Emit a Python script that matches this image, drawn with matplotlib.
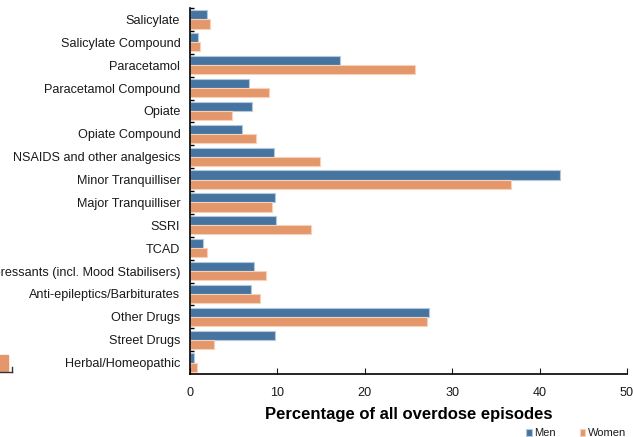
import matplotlib as mpl
from matplotlib import pyplot as plt
from matplotlib.patches import Rectangle
from matplotlib.lines import Line2D
import numpy as np

mpl.rcParams['font.family'] = ['Liberation Sans', 'DejaVu Sans']
text_color = (.1, .1, .1)
mpl.rcParams['text.color'] = text_color

categories = [
    'Salicylate', 'Salicylate Compound', 'Paracetamol', 'Paracetamol Compound',
    'Opiate', 'Opiate Compound', 'NSAIDS and other analgesics',
    'Minor Tranquilliser', 'Major Tranquilliser', 'SSRI', 'TCAD',
    'Other Antidepressants (incl. Mood Stabilisers)',
    'Anti-epileptics/Barbiturates', 'Other Drugs', 'Street Drugs',
    'Herbal/Homeopathic',
]
men = [2.0, 0.9, 17.2, 6.7, 7.15, 6.0, 9.6, 42.3, 9.75, 9.8, 1.45, 7.3, 6.95, 27.3, 9.7, 0.5]
women = [2.25, 1.1, 25.8, 9.05, 4.85, 7.55, 14.85, 36.7, 9.35, 13.8, 1.9, 8.65, 8.05, 27.1, 2.7, 0.75]

blue = '#4674a1'
orange = '#e3976a'

fig = plt.figure(figsize=(6.33, 4.37), dpi=100)
ax = fig.add_axes([190 / 633, 1 - 374 / 437, 437 / 633, 366 / 437])

y = np.arange(len(categories))
h = 0.4
ax.barh(y - h / 2, men, height=h, color=blue, edgecolor='#b4c8dc', linewidth=0.8, label='Men')
ax.barh(y + h / 2, women, height=h, color=orange, edgecolor='#f6d2bb', linewidth=0.8, label='Women')

ax.set_ylim(len(categories) - 0.5, -0.5)
ax.set_xlim(0, 50)
ax.set_yticks(y, labels=categories)
ax.set_yticks(np.arange(len(categories)) - 0.5, minor=True)
ax.tick_params(axis='y', which='major', length=0, pad=7, labelsize=9.1, colors=text_color)
ax.tick_params(axis='y', which='minor', direction='in', length=3, width=1)
ax.set_xticks([0, 10, 20, 30, 40, 50])
ax.tick_params(axis='x', direction='in', length=4, width=0.8, pad=9, labelsize=9.1, colors=text_color)
ax.set_xlabel('Percentage of all overdose episodes', fontsize=12, fontweight='bold', labelpad=6)

for s in ['top', 'right']:
    ax.spines[s].set_visible(False)
for s in ['left', 'bottom']:
    ax.spines[s].set_linewidth(1.2)

fig.legend(loc='lower right', bbox_to_anchor=(1.005, -0.026), ncol=2, frameon=False,
           fontsize=8, handlelength=0.5, handleheight=0.5, handletextpad=0.25,
           columnspacing=2.1)

# stray fragment at the lower left edge
fig.patches.append(Rectangle((0, 1 - 371 / 437), 8 / 633, 16 / 437,
                             transform=fig.transFigure, color=orange, zorder=1))
fig.lines.append(Line2D([0, 12 / 633], [1 - 371.5 / 437] * 2, transform=fig.transFigure,
                        color='#333333', linewidth=1))
fig.lines.append(Line2D([12 / 633] * 2, [1 - 371.5 / 437, 1 - 367 / 437],
                        transform=fig.transFigure, color='#333333', linewidth=1))

fig.savefig('out.png', dpi=100)
